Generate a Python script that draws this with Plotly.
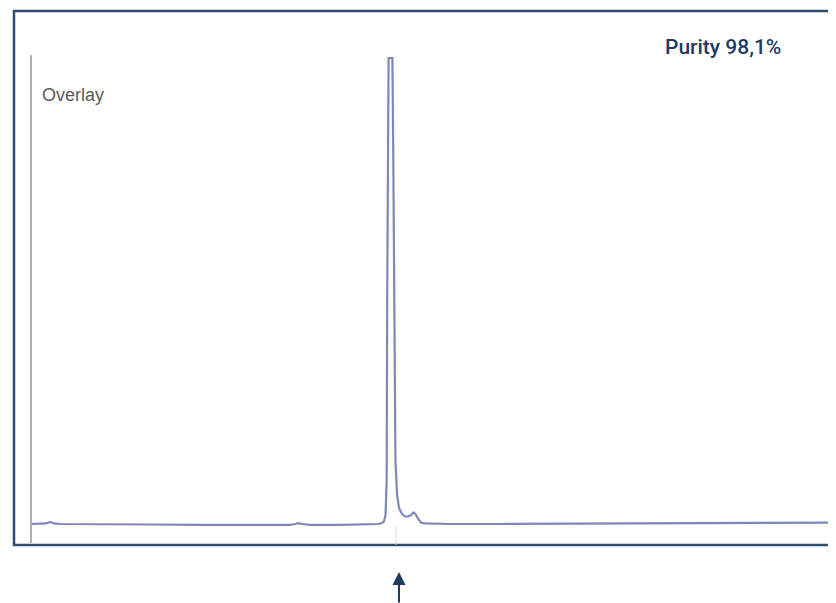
import plotly.graph_objects as go

# Retention time (min) and detector signal (mAU, baseline = 0, peak top clipped at 1000)
time_min = [0.62, 0.95, 1.17, 1.31, 1.46, 1.68, 3.14, 4.96, 6.79, 8.61, 10.07, 10.26, 10.37,
            10.51, 10.80, 11.90, 12.99, 13.14, 13.29, 13.43, 13.50, 13.56, 13.60, 13.62,
            13.65, 13.67, 13.74, 13.81, 13.84, 13.88, 13.92, 13.98, 14.05, 14.16, 14.27,
            14.38, 14.49, 14.58, 14.65, 14.75, 14.85, 15.00, 15.55, 15.91, 17.74, 19.56,
            21.39, 23.21, 25.04, 26.86, 28.69, 29.78]
signal = [0, 0, 1.1, 4.3, 1.1, 0, 0, -1.1, -1.7, -2.1, -2.1, 0, 1.7,
          0, -1.7, -1.7, -0.6, 1.1, 0, 2.1, 5.4, 19.3, 94.4, 480.7,
          909.9, 1000, 1000, 1000, 802.6, 373.4, 137.3, 62.2, 34.3, 21.5, 16.1,
          16.1, 19.3, 24.7, 21.5, 10.7, 3.2, 1.1, 0, 0, 0, 0.4,
          1.1, 1.5, 2.1, 2.6, 2.8, 2.8]

label_overlay = "Overlay"
label_purity = "Purity 98,1%"
peak_time = 14.05

navy = "#1f3a64"

fig = go.Figure()
fig.add_trace(go.Scatter(x=time_min, y=signal, mode="lines",
                         line=dict(color="#7f86b9", width=2.2), hoverinfo="skip",
                         showlegend=False))

fig.update_layout(
    width=836, height=603,
    margin=dict(l=6, r=0, t=3, b=66),
    paper_bgcolor="white", plot_bgcolor="white",
    xaxis=dict(range=[0, 30.29], visible=False),
    yaxis=dict(range=[-45.1, 1100.9], visible=False),
    showlegend=False,
)

# frame box
fig.add_shape(type="rect", xref="paper", yref="paper", x0=0, x1=1.05, y0=0, y1=1,
              line=dict(color="#2f4d70", width=2.5), layer="above")
# scanned chromatogram y-axis line
fig.add_shape(type="line", xref="x", yref="y", x0=0.62, x1=0.62, y0=-40.8, y1=1006,
              line=dict(color="#b0b0b0", width=2))
# faint marker below main peak
fig.add_shape(type="line", xref="x", yref="y", x0=13.94, x1=13.94, y0=-2, y1=-45,
              line=dict(color="#f3d6d9", width=1))

fig.add_annotation(text=label_overlay, xref="x", yref="paper", x=0.95, y=0.843,
                   xanchor="left", yanchor="middle", showarrow=False,
                   font=dict(family="Liberation Sans, Arial", size=18, color="#5a5a5a"))
fig.add_annotation(text=label_purity, xref="x", yref="paper", x=28.07, y=0.9326,
                   xanchor="right", yanchor="middle", showarrow=False,
                   font=dict(family="Roboto", size=21, color=navy, weight=500))

# arrow pointing at main peak
fig.add_annotation(text="", x=peak_time, xref="x", y=-0.0506, yref="paper",
                   showarrow=True, ax=0, ay=32, axref="pixel", ayref="pixel",
                   arrowhead=2, arrowsize=1.3, arrowwidth=2, arrowcolor=navy)

fig.write_html("out.html")
